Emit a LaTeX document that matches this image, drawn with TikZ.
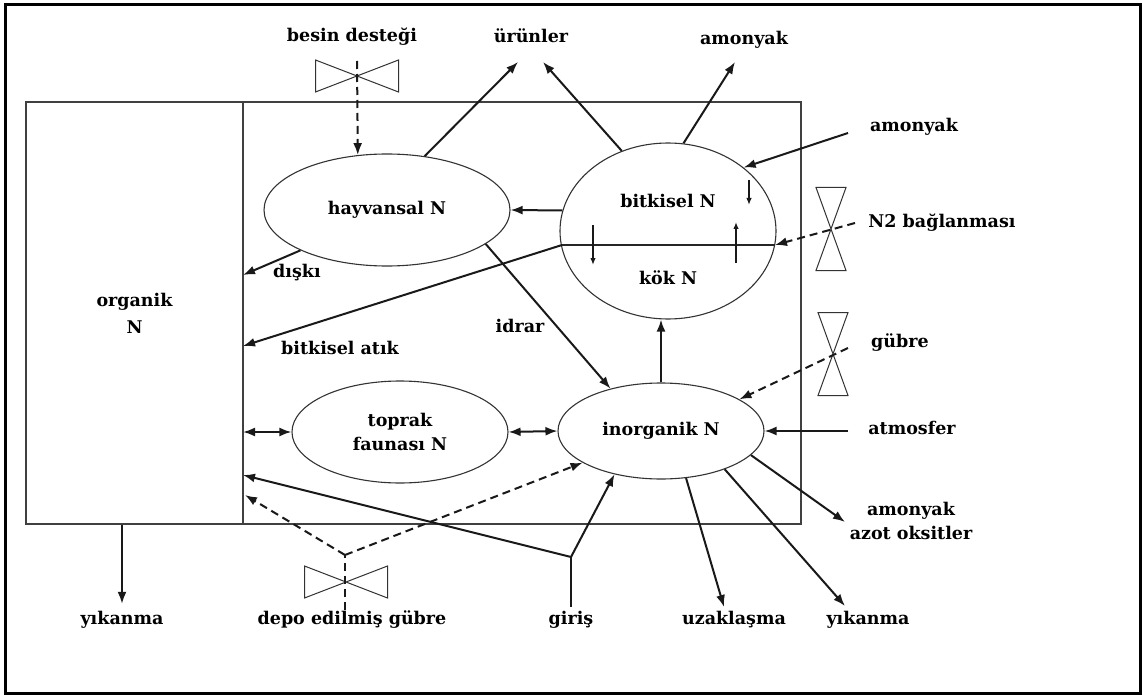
\documentclass[tikz,border=0pt]{standalone}
\usepackage{fontspec}
\setmainfont{DejaVu Serif}
\usetikzlibrary{arrows.meta,shapes.geometric,calc}
\begin{document}
\begin{tikzpicture}[x=1pt,y=-1pt,
  lbl/.style={font=\bfseries\fontsize{17.5}{24}\selectfont, inner sep=0pt, text height=12.5pt, text depth=3.5pt, align=center},
  pool/.style={ellipse, draw=black!80, line width=1.1pt, inner sep=0pt, align=center, font=\bfseries\fontsize{17.5}{24}\selectfont},
  flow/.style={line width=2pt, draw=black!90, -{Latex[length=12pt,width=9pt]}},
  biflow/.style={line width=2pt, draw=black!90, {Latex[length=12pt,width=9pt]}-{Latex[length=12pt,width=9pt]}},
  dflow/.style={flow, dash pattern=on 8pt off 5pt},
  dline/.style={line width=2pt, draw=black!90, dash pattern=on 8pt off 5pt},
  smallflow/.style={line width=1.4pt, draw=black!90, -{Latex[length=7pt,width=5.5pt]}},
  valve/.style={draw=black!80, line width=1pt},
  hvalve/.pic={\draw[valve] (-41.5,-16) -- (41.5,16) -- (41.5,-16) -- (-41.5,16) -- cycle;},
  vvalve/.pic={\draw[valve] (-15,-41.5) -- (15,-41.5) -- (-15,41.5) -- (15,41.5) -- cycle;}
]
\useasboundingbox (0,0) rectangle (1143,695);
\fill[white] (0,0) rectangle (1143,695);
\draw[line width=3pt] (5.5,4.5) rectangle (1140,693);

% system boxes
\draw[draw=black!75, line width=1.1pt] (26,102) rectangle (801,524);
\node[draw=black!75, line width=1.1pt, minimum width=217pt, minimum height=422pt, inner sep=0pt, align=center,
      font=\bfseries\fontsize{17.5}{27}\selectfont] (org) at (134.5,313) {organik\\N};

% pools
\node[pool, minimum width=246pt, minimum height=112pt] (hay) at (387,210) {hayvansal N};
\node[pool, minimum width=216pt, minimum height=176pt] (bit) at (668,231) {};
\node[pool, minimum width=216pt, minimum height=102pt] (top) at (400,432) {toprak\\faunası N};
\node[pool, minimum width=206pt, minimum height=96pt] (ino) at (661,431) {inorganik N};
\node[lbl] (tbit) at (668,203) {bitkisel N};
\node[lbl] (tkok) at (668,280) {kök N};

% labels
\node[lbl] (tBesin) at (352,37) {besin desteği};
\node[lbl] (tUrun) at (531,38) {ürünler};
\node[lbl] (tAmoT) at (744,40) {amonyak};
\node[lbl] (tAmoR) at (914,127) {amonyak};
\node[lbl] (tN2) at (942,223) {N2 bağlanması};
\node[lbl] (tGub) at (900,343) {gübre};
\node[lbl] (tAtm) at (912,430) {atmosfer};
\node[lbl] (tAzo) at (911,535) {amonyak\\azot oksitler};
\node[lbl] (tYkR) at (868,620) {yıkanma};
\node[lbl] (tUza) at (734,620) {uzaklaşma};
\node[lbl] (tGir) at (571,620) {giriş};
\node[lbl] (tDep) at (352,620) {depo edilmiş gübre};
\node[lbl] (tYkL) at (122,620) {yıkanma};
\node[lbl] (tDis) at (297,273) {dışkı};
\node[lbl] (tAtik) at (340,350) {bitkisel atık};
\node[lbl] (tIdr) at (520,328) {idrar};

% coordinates
\coordinate (v1) at (357,76);
\coordinate (v2) at (831,229);
\coordinate (v3) at (833,354);
\coordinate (v4) at (346,582);
\coordinate (uruA) at (518,62);
\coordinate (uruB) at (543,62);
\coordinate (amoT) at (735,62);
\coordinate (amoR) at (848,133);
\coordinate (n2s) at (855,223);
\coordinate (gubs) at (848,348);
\coordinate (atms) at (848,431);
\coordinate (azE) at (845,522);
\coordinate (ykE) at (845,606);
\coordinate (uzE) at (724,607);
\coordinate (girS) at (571,607);
\coordinate (girJ) at (571,557);
\coordinate (depJ) at (345,555);
\coordinate (depS) at (345,610);
\coordinate (bL) at (562,245);
\coordinate (bR) at (775,245);
\coordinate (d1) at (243,275);
\coordinate (d2) at (243,346);
\coordinate (d3) at (243,432);
\coordinate (d4) at (243,475);
\coordinate (d5) at (245,495);

% valves
\pic at (v1) {hvalve};
\pic at (v2) {vvalve};
\pic at (v3) {vvalve};
\pic at (v4) {hvalve};

% root/shoot divide
\draw[line width=2pt, draw=black!85] (bL) -- (bR);
\draw[smallflow] (749,180) -- (749,205);
\draw[smallflow] (736,263) -- (736,222);
\draw[smallflow] (593,225) -- (593,265);

% flows
\draw[dflow] ($(v1)+(0,-15)$) -- (hay.118);
\draw[flow] (hay.55) -- (uruA);
\draw[flow] (bit.120) -- (uruB);
\draw[flow] (bit.80) -- (amoT);
\draw[flow] (amoR) -- (bit.40);
\draw[dflow] (n2s) -- (bR);
\draw[flow] (bit.169) -- (hay.east);
\draw[flow] (hay.205) -- (d1);
\draw[flow] (bL) -- (d2);
\draw[flow] (hay.-19) -- (ino.140);
\draw[flow] (ino.north) -- (ino.north |- bit.south);
\draw[dflow] (gubs) -- (ino.22);
\draw[flow] (atms) -- (ino.east);
\draw[flow] (ino.-15) -- (azE);
\draw[flow] (ino.-31) -- (ykE);
\draw[flow] (ino.-62) -- (uzE);
\draw[biflow] (d3) -- (top.west);
\draw[biflow] (top.east) -- (ino.west);
\draw[line width=2pt, draw=black!90] (girS) -- (girJ);
\draw[flow] (girJ) -- (ino.-137);
\draw[flow] (girJ) -- (d4);
\draw[dline] (depS) -- (depJ);
\draw[dflow] (depJ) -- (d5);
\draw[dflow] (depJ) -- (ino.202);
\draw[flow] (org.south -| tYkL.north) -- ($(tYkL.north)+(0,-8)$);
\end{tikzpicture}
\end{document}
